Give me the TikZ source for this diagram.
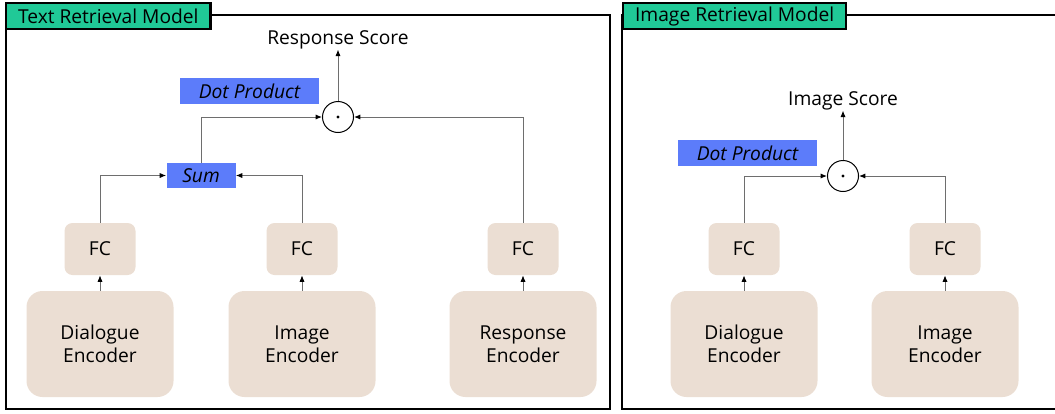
\documentclass[tikz,border=0pt]{standalone}
\usepackage{fontspec}
\setmainfont{Open Sans}
\usetikzlibrary{arrows.meta}
\definecolor{tabgreen}{RGB}{32,201,151}
\definecolor{opblue}{RGB}{92,124,250}
\definecolor{boxbeige}{RGB}{235,222,211}
\definecolor{wiregray}{RGB}{110,110,110}
\begin{document}
\begin{tikzpicture}[x=0.5pt, y=-0.5pt,
    every node/.style={font=\fontsize{9.6}{11.5}\selectfont, inner sep=0pt},
    frame/.style={line width=1.3pt},
    tab/.style={draw, line width=1.1pt, fill=tabgreen, anchor=north west,
        minimum height=13pt, inner xsep=6pt},
    enc/.style={fill=boxbeige, rounded corners=8pt, minimum width=73.5pt,
        minimum height=53pt, align=center},
    fc/.style={fill=boxbeige, rounded corners=4pt, minimum width=35.5pt,
        minimum height=26pt},
    op/.style={fill=opblue, font=\fontsize{9.6}{11.5}\itshape},
    dotp/.style={draw, circle, minimum size=15.5pt, line width=0.5pt},
    wire/.style={draw=wiregray, line width=0.45pt,
        -{Latex[length=3.2pt,width=2.6pt,color=black]}}]
    \useasboundingbox (0,0) rectangle (1055,413);
    % Text retrieval model
    \draw[frame] (6,15) rectangle (610,409);
    \node[tab] (ttab) at (5,2) {Text Retrieval Model};
    \foreach \x/\n/\t in {100/d/Dialogue,302/i/Image,523/r/Response} {
        \node[enc] (enc\n) at (\x,344) {\t\\Encoder};
        \node[fc] (fc\n) at (\x,249) {FC};
        \draw[wire] (enc\n) -- (fc\n);
    }
    \node[op, minimum width=34.5pt, minimum height=12.5pt] (sum) at (201,175.5) {Sum};
    \node[dotp] (tdot) at (338,117) {};
    \fill (tdot) circle (0.8pt);
    \node[op, minimum width=69.5pt, minimum height=13pt] (tdp) at (249.5,91) {Dot Product};
    \node (tscore) at (338,40) {Response Score};
    \draw[wire] (fcd) |- (sum);
    \draw[wire] (fci) |- (sum);
    \draw[wire] (sum) |- (tdot);
    \draw[wire] (fcr) |- (tdot);
    \draw[wire] (tdot) -- (tscore);
    % Image retrieval model
    \draw[frame] (1056,15) -| (622,409) -- (1056,409);
    \node[tab] (itab) at (622,2) {Image Retrieval Model};
    \foreach \x/\n/\t in {744/d/Dialogue,945/i/Image} {
        \node[enc] (ienc\n) at (\x,344) {\t\\Encoder};
        \node[fc] (ifc\n) at (\x,249) {FC};
        \draw[wire] (ienc\n) -- (ifc\n);
    }
    \node[dotp] (idot) at (843,176) {};
    \fill (idot) circle (0.8pt);
    \node[op, minimum width=69.5pt, minimum height=13pt] (idp) at (747.5,153) {Dot Product};
    \node (iscore) at (843,101) {Image Score};
    \draw[wire] (ifcd) |- (idot);
    \draw[wire] (ifci) |- (idot);
    \draw[wire] (idot) -- (iscore);
\end{tikzpicture}
\end{document}
